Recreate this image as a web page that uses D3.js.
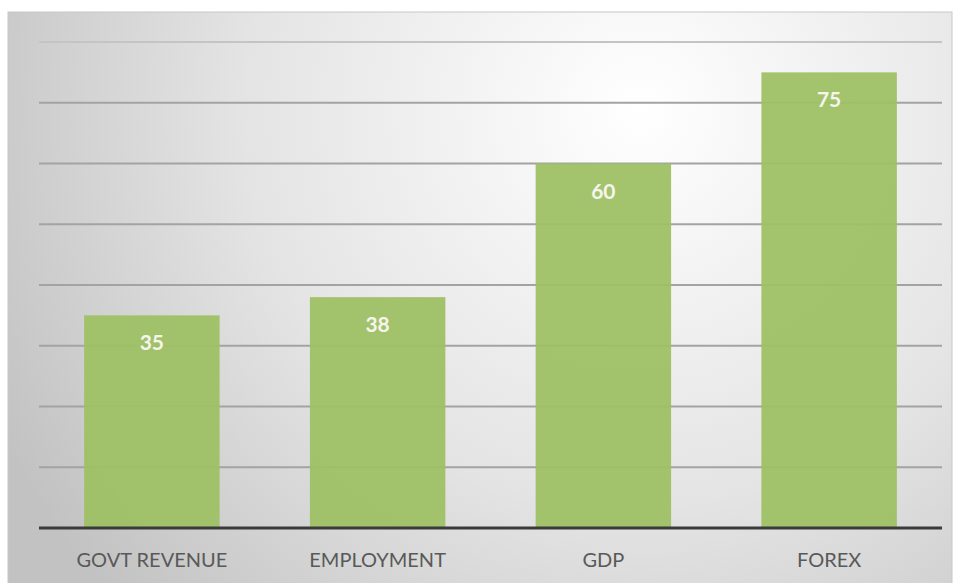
<!DOCTYPE html>
<html>
<head>
<meta charset="utf-8">
<script src="https://cdn.jsdelivr.net/npm/d3@7"></script>
<style>
  body { margin: 0; background: #fff; }
</style>
</head>
<body>
<div class="canvas"></div>
<script>
// chart data
const categories = ['GOVT REVENUE', 'EMPLOYMENT', 'GDP', 'FOREX'];
const values = [35, 38, 60, 75];
const yTicks = [0, 10, 20, 30, 40, 50, 60, 70, 80];

const width = 958, height = 583;
const margin = {top: 42, right: 16, bottom: 55, left: 39};

const svg = d3.select('.canvas')
    .append('svg')
        .attr('width', width)
        .attr('height', height);

// panel background gradient
const defs = svg.append('defs');
const grad = defs.append('radialGradient')
    .attr('id', 'bg')
    .attr('gradientUnits', 'userSpaceOnUse')
    .attr('cx', 640).attr('cy', 110).attr('r', 720);
grad.append('stop').attr('offset', '0%').attr('stop-color', '#ffffff');
grad.append('stop').attr('offset', '55%').attr('stop-color', '#e4e4e4');
grad.append('stop').attr('offset', '100%').attr('stop-color', '#c2c2c2');

svg.append('rect')
    .attr('x', 8).attr('y', 12)
    .attr('width', 944).attr('height', 575)
    .attr('fill', 'url(#bg)')
    .attr('stroke', '#c8c8c8')
    .attr('stroke-width', 1);

const x = d3.scaleBand()
    .domain(categories)
    .range([margin.left, width - margin.right])
    .paddingInner(0.4)
    .paddingOuter(0.2);

const y = d3.scaleLinear()
    .domain([0, 80])
    .range([528, margin.top]);

// gridlines
svg.append('g')
    .selectAll('line.grid')
    .data(yTicks.filter(d => d > 0))
    .enter()
    .append('line')
        .attr('class', 'grid')
        .attr('x1', margin.left)
        .attr('x2', width - margin.right)
        .attr('y1', d => y(d))
        .attr('y2', d => y(d))
        .attr('stroke', d => d === 80 ? '#c4c4c4' : '#a3a3a3')
        .attr('stroke-width', 2);

// bars
svg.append('g')
    .selectAll('rect.bar')
    .data(values)
    .enter()
    .append('rect')
        .attr('class', 'bar')
        .attr('x', (d, i) => x(categories[i]))
        .attr('y', d => y(d))
        .attr('width', x.bandwidth())
        .attr('height', d => y(0) - y(d))
        .attr('fill', '#9fc065')
        .attr('fill-opacity', 0.95);

// baseline
svg.append('line')
    .attr('x1', margin.left)
    .attr('x2', width - margin.right)
    .attr('y1', y(0))
    .attr('y2', y(0))
    .attr('stroke', '#3a3a3a')
    .attr('stroke-width', 3);

// value labels
svg.append('g')
    .selectAll('text.value')
    .data(values)
    .enter()
    .append('text')
        .attr('class', 'value')
        .attr('x', (d, i) => x(categories[i]) + x.bandwidth() / 2)
        .attr('y', d => y(d) + 35)
        .attr('text-anchor', 'middle')
        .attr('font-family', 'Lato, "Open Sans", sans-serif')
        .attr('font-weight', 'bold')
        .attr('font-size', 21)
        .attr('fill', '#f4f6ec')
        .text(d => d);

// category labels
svg.append('g')
    .selectAll('text.cat')
    .data(categories)
    .enter()
    .append('text')
        .attr('class', 'cat')
        .attr('x', d => x(d) + x.bandwidth() / 2)
        .attr('y', 567)
        .attr('text-anchor', 'middle')
        .attr('font-family', 'Lato, "Open Sans", sans-serif')
        .attr('font-size', 20)
        .attr('fill', '#595959')
        .text(d => d);
</script>
</body>
</html>
